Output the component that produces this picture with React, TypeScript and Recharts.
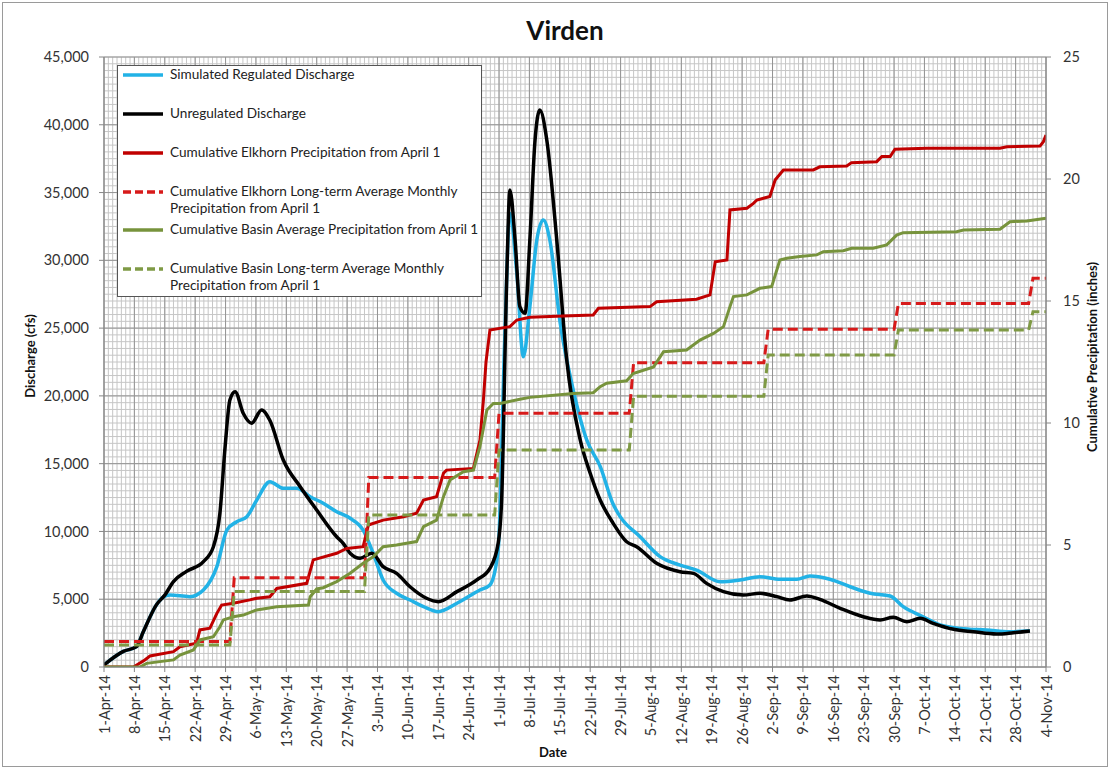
import { LineChart, Line, XAxis, YAxis, CartesianGrid } from 'recharts';

// day 0 = 1-Apr-14
const weekTicks = [0, 7, 14, 21, 28, 35, 42, 49, 56, 63, 70, 77, 84, 91, 98, 105, 112, 119, 126, 133, 140, 147, 154, 161, 168, 175, 182, 189, 196, 203, 210, 217];
const weekLabels = [
  '1-Apr-14', '8-Apr-14', '15-Apr-14', '22-Apr-14', '29-Apr-14', '6-May-14', '13-May-14', '20-May-14',
  '27-May-14', '3-Jun-14', '10-Jun-14', '17-Jun-14', '24-Jun-14', '1-Jul-14', '8-Jul-14', '15-Jul-14',
  '22-Jul-14', '29-Jul-14', '5-Aug-14', '12-Aug-14', '19-Aug-14', '26-Aug-14', '2-Sep-14', '9-Sep-14',
  '16-Sep-14', '23-Sep-14', '30-Sep-14', '7-Oct-14', '14-Oct-14', '21-Oct-14', '28-Oct-14', '4-Nov-14',
];
const dischargeTicks = [0, 5000, 10000, 15000, 20000, 25000, 30000, 35000, 40000, 45000];
const precipTicks = [0, 5, 10, 15, 20, 25];
const DAY_MAX = 217;
const CFS_MAX = 45000;

// minor grid: one line per day, one per 500 cfs
const dayGrid = Array.from({ length: 218 }, (_, i) => i);
const cfsGrid = Array.from({ length: 91 }, (_, i) => i * 500);

type Pt = { day: number; v: number };
const pts = (rows: number[][]): Pt[] => rows.map(([day, v]) => ({ day, v }));

const regulated = pts([
  [0, 150], [4.45, 1150], [7.5, 1500], [9.05, 2600], [12.1, 4600], [13.6, 5150], [15.2, 5310], [19.8, 5190],
  [22.9, 5680], [26, 7400], [28.3, 10100], [30.6, 10720], [32.9, 11090], [35.2, 12320], [38.2, 13670],
  [41.3, 13180], [44.4, 13180], [47.5, 12560], [50.5, 12080], [53.6, 11460], [56.7, 10970], [59.7, 10100],
  [62, 8390], [64.3, 6420], [67.4, 5440], [70.5, 4940], [73.6, 4450], [77, 4080], [81.3, 4700], [86.6, 5680],
  [88.9, 6050], [90.8, 8630], [92.3, 24000], [93.5, 33470], [95.1, 29040], [96.6, 22890], [98.1, 26580],
  [99.7, 31500], [101.2, 32980], [102.7, 31500], [105.1, 25350], [108.1, 20430], [111.2, 16750],
  [114.3, 14800], [117.3, 12000], [118.9, 11090], [123.5, 9610], [128.1, 8140], [132.7, 7520],
  [136.5, 7150], [141.9, 6290], [146.5, 6420], [151.1, 6660], [155.7, 6470], [159.6, 6470], [162.6, 6710],
  [167.2, 6470], [171.9, 5920], [176.5, 5440], [181.1, 5240], [184.1, 4450], [188.7, 3710], [192.6, 3100],
  [197.2, 2850], [203.3, 2730], [208.7, 2600], [213.3, 2680],
]);

const unregulated = pts([
  [0, 150], [4.45, 1150], [7.5, 1500], [9.05, 2600], [12.1, 4600], [14, 5300], [16, 6300], [19, 7050],
  [22.9, 7770], [25.2, 8870], [26.7, 11340], [27.9, 16250], [29, 19700], [30.2, 20300], [32.1, 18700],
  [34, 17980], [36.3, 18960], [38.2, 18200], [41.3, 15270], [45.2, 13300], [49, 11580], [53.6, 9610],
  [55.1, 9120], [56.7, 8390], [59, 8020], [61.7, 8390], [64.3, 7400], [67.4, 6910], [70.5, 5920],
  [74.3, 5070], [77, 4820], [81.3, 5560], [85.9, 6420], [88.9, 7280], [90.8, 9120], [91.6, 12320],
  [92.8, 29040], [93.5, 35190], [94.7, 31500], [95.8, 26580], [97, 26090], [98.1, 31500], [99.3, 38880],
  [100.4, 41090], [102, 38880], [104.3, 31500], [106.6, 22650], [109.7, 16750], [112, 14290], [114.3, 12320],
  [117.3, 10600], [120.4, 9240], [122.7, 8870], [127.3, 7650], [132.7, 7030], [135.8, 6910],
  [138.8, 6170], [142.7, 5560], [147.3, 5310], [151.1, 5440], [155, 5190], [158, 4940], [161.9, 5240],
  [164.9, 4990], [169.6, 4330], [174.9, 3710], [178.8, 3470], [181.8, 3670], [184.9, 3340], [188, 3590],
  [191, 3220], [195.7, 2780], [200.3, 2600], [205.6, 2430], [209.5, 2530], [213.3, 2660],
]);

const elkhorn = pts([
  [0, 0], [6.8, 0], [9.4, 0.29], [10.6, 0.45], [16, 0.63], [17.5, 0.83], [21.3, 0.97], [22.1, 1.52],
  [24.4, 1.59], [26, 2.2], [27.1, 2.54], [29.8, 2.61], [33.6, 2.75], [35.2, 2.82], [38.2, 2.88],
  [39.8, 3.22], [46.7, 3.43], [48.2, 4.39], [53.6, 4.66], [55.9, 4.86], [59.7, 4.93], [60.9, 5.82],
  [64.3, 6.02], [69, 6.16], [72, 6.3], [73.6, 6.84], [76.6, 6.98], [78.2, 7.94], [78.9, 8.07],
  [85.1, 8.14], [86.6, 9.3], [87.4, 10.94], [88, 12.5], [88.9, 13.81], [93.5, 13.95], [95.1, 14.22],
  [98.1, 14.33], [105.8, 14.39], [112.7, 14.43], [113.9, 14.7], [125.8, 14.77], [127.3, 14.97],
  [136.5, 15.07], [139.6, 15.25], [140.8, 16.61], [143.5, 16.68], [144.2, 18.73], [148.1, 18.8],
  [149.6, 19], [150.4, 19.14], [153.4, 19.28], [154.6, 19.96], [156.5, 20.37], [163.4, 20.37],
  [164.9, 20.5], [171.1, 20.53], [172.2, 20.67], [178, 20.71], [179.2, 20.92], [181.1, 20.92],
  [182.2, 21.22], [189.5, 21.26], [206.4, 21.26], [208, 21.32], [215.6, 21.35], [216.4, 21.53], [217, 21.8],
]);

const elkhornNormal = pts([
  [0, 1.05], [29, 1.05], [30, 3.66], [60, 3.66], [61, 7.77], [90, 7.77], [91, 10.4], [121, 10.4],
  [122, 12.47], [152, 12.47], [153, 13.84], [182, 13.84], [183, 14.9], [213, 14.9], [214, 15.93], [217, 15.93],
]);

const basin = pts([
  [0, 0], [8.3, 0], [9.8, 0.15], [12.9, 0.22], [16, 0.29], [17.5, 0.49], [20.6, 0.7], [22.1, 1.11],
  [25.2, 1.24], [26.7, 1.65], [27.5, 1.93], [29.8, 2.06], [32.1, 2.13], [35.2, 2.34], [39.8, 2.47],
  [47.1, 2.54], [47.5, 2.88], [49, 3.2], [50.5, 3.25], [53.6, 3.5], [56.7, 3.84], [59.7, 4.25],
  [62, 4.52], [64.3, 4.93], [67.4, 5.0], [69.7, 5.07], [72, 5.14], [73.6, 5.75], [76.6, 6.02],
  [78.2, 6.98], [79.7, 7.66], [82.8, 8.0], [85.1, 8.07], [86.6, 9.03], [88.2, 10.53], [89.7, 10.8],
  [91.2, 10.8], [95.8, 10.97], [98.1, 11.05], [108.1, 11.21], [112.7, 11.24], [114.3, 11.49],
  [115.8, 11.63], [120.4, 11.73], [121.9, 12.03], [126.6, 12.3], [128.9, 12.92], [134.2, 12.99],
  [137.3, 13.4], [140.4, 13.67], [142.7, 13.95], [144.2, 14.77], [145, 15.18], [148.1, 15.25],
  [151.1, 15.52], [153.8, 15.59], [155.7, 16.68], [157.3, 16.75], [160.3, 16.82], [164.2, 16.89],
  [165.7, 17.02], [170.3, 17.06], [172.2, 17.16], [177.2, 17.16], [180.3, 17.3], [182.6, 17.7],
  [184.1, 17.8], [196.4, 17.84], [198, 17.91], [206.4, 17.94], [208.7, 18.25], [212.6, 18.28], [217, 18.39],
]);

const basinNormal = pts([
  [0, 0.9], [29, 0.9], [30, 3.09], [60, 3.09], [61, 6.23], [90, 6.23], [91, 8.89], [121, 8.89],
  [122, 11.1], [152, 11.1], [153, 12.79], [182, 12.79], [183, 13.81], [213, 13.81], [214, 14.56], [217, 14.56],
]);

const series = [
  { key: 'reg', name: ['Simulated Regulated Discharge'], data: regulated, axis: 'left', color: '#22B2E6', width: 3.5, dash: undefined, curve: 'monotone' },
  { key: 'unreg', name: ['Unregulated Discharge'], data: unregulated, axis: 'left', color: '#000000', width: 3.5, dash: undefined, curve: 'monotone' },
  { key: 'elk', name: ['Cumulative Elkhorn Precipitation from April 1'], data: elkhorn, axis: 'right', color: '#C00000', width: 3, dash: undefined, curve: 'linear' },
  { key: 'elkN', name: ['Cumulative Elkhorn Long-term Average Monthly', 'Precipitation from April 1'], data: elkhornNormal, axis: 'right', color: '#D71A1A', width: 3, dash: '10 5', curve: 'linear' },
  { key: 'bas', name: ['Cumulative Basin Average Precipitation from April 1'], data: basin, axis: 'right', color: '#77933C', width: 3, dash: undefined, curve: 'linear' },
  { key: 'basN', name: ['Cumulative Basin Long-term Average Monthly', 'Precipitation from April 1'], data: basinNormal, axis: 'right', color: '#7F9A45', width: 3, dash: '10 5', curve: 'linear' },
] as const;

const legendTops = [66, 105, 144, 183, 221, 260];

const FONT = 'Lato, "Open Sans", sans-serif';
const AXIS = '#868686';

// minor grid positions, through the axis scale when it is exposed
const dayLines = (props: any): number[] => {
  const sc = props?.xAxis?.scale;
  if (typeof sc === 'function') return dayGrid.map((d) => sc(d));
  const o = props.offset;
  return dayGrid.map((d) => o.left + (d / DAY_MAX) * o.width);
};
const cfsLines = (props: any): number[] => {
  const sc = props?.yAxis?.scale;
  if (typeof sc === 'function') return cfsGrid.map((v) => sc(v));
  const o = props.offset;
  return cfsGrid.map((v) => o.top + o.height - (v / CFS_MAX) * o.height);
};

const DateTick = (props: any) => {
  const { x, y, payload } = props;
  const label = weekLabels[weekTicks.indexOf(payload.value)];
  return (
    <text
      x={x}
      y={y}
      transform={`rotate(-90 ${x} ${y})`}
      textAnchor="end"
      dominantBaseline="central"
      fontFamily={FONT}
      fontSize={14.5}
      fill="#333"
    >
      {label}
    </text>
  );
};

function Legend() {
  return (
    <div
      style={{
        position: 'absolute',
        left: 117,
        top: 65,
        width: 363,
        height: 230,
        border: '1px solid #555',
        background: '#fff',
        fontFamily: FONT,
        fontSize: 13.6,
        color: '#222',
      }}
    >
      {series.map((s, i) => (
        <div key={s.key} style={{ position: 'absolute', left: 4, top: legendTops[i] - 66, lineHeight: '17px' }}>
          <svg width={42} height={17} style={{ position: 'absolute', left: 0, top: 0 }}>
            <line x1={1} y1={9} x2={41} y2={9} stroke={s.color} strokeWidth={3.5} strokeDasharray={s.dash ? '8 4' : undefined} />
          </svg>
          <div style={{ marginLeft: 48, whiteSpace: 'nowrap' }}>
            {s.name.map((t) => (
              <div key={t}>{t}</div>
            ))}
          </div>
        </div>
      ))}
    </div>
  );
}

export default function App() {
  return (
    <div style={{ position: 'absolute', left: 0, top: 0, width: 1110, height: 769, background: '#fff' }}>
      <div style={{ position: 'absolute', left: 2, top: 2, width: 1104, height: 763, border: '1px solid #9a9a9a' }} />
      <LineChart width={1110} height={769} margin={{ top: 57, right: 0, bottom: 0, left: 0 }}>
        <XAxis
          xAxisId="main"
          type="number"
          dataKey="day"
          domain={[0, DAY_MAX]}
          ticks={weekTicks}
          allowDataOverflow
          height={102}
          stroke={AXIS}
          tickSize={5}
          tickMargin={3}
          tick={<DateTick />}
          interval={0}
        />
        <YAxis
          yAxisId="left"
          type="number"
          domain={[0, CFS_MAX]}
          ticks={dischargeTicks}
          allowDataOverflow
          width={104}
          stroke={AXIS}
          tickSize={5}
          tickMargin={10}
          tickFormatter={(v: number) => v.toLocaleString('en-US')}
          tick={{ fontFamily: FONT, fontSize: 14.5, fill: '#333' }}
          interval={0}
        />
        <YAxis
          yAxisId="right"
          orientation="right"
          type="number"
          domain={[0, 25]}
          ticks={precipTicks}
          allowDataOverflow
          width={64}
          stroke={AXIS}
          tickSize={5}
          tickMargin={12}
          tick={{ fontFamily: FONT, fontSize: 14.5, fill: '#333', textAnchor: 'start' }}
          interval={0}
        />
        <CartesianGrid
          xAxisId="main"
          yAxisId="left"
          stroke="#c6c6c6"
          strokeWidth={1}
          verticalCoordinatesGenerator={dayLines}
          horizontalCoordinatesGenerator={cfsLines}
        />
        <CartesianGrid xAxisId="main" yAxisId="left" stroke="#949494" strokeWidth={1} />
        {series.map((s) => (
          <Line
            key={s.key}
            xAxisId="main"
            yAxisId={s.axis}
            data={s.data as Pt[]}
            dataKey="v"
            name={s.name.join(' ')}
            type={s.curve}
            stroke={s.color}
            strokeWidth={s.width}
            strokeDasharray={s.dash}
            dot={false}
            activeDot={false}
            isAnimationActive={false}
          />
        ))}
      </LineChart>
      <div style={{ position: 'absolute', left: 0, width: 1130, top: 14, textAlign: 'center', fontFamily: FONT, fontWeight: 700, fontSize: 26, color: '#111' }}>
        Virden
      </div>
      <div style={{ position: 'absolute', left: 30, top: 356, transform: 'translate(-50%, -50%) rotate(-90deg)', whiteSpace: 'nowrap', fontFamily: FONT, fontWeight: 700, fontSize: 13, color: '#111' }}>
        Discharge (cfs)
      </div>
      <div style={{ position: 'absolute', left: 1092, top: 357, transform: 'translate(-50%, -50%) rotate(-90deg)', whiteSpace: 'nowrap', fontFamily: FONT, fontWeight: 700, fontSize: 13, color: '#111' }}>
        Cumulative Precipitation (inches)
      </div>
      <div style={{ position: 'absolute', left: 553, top: 752, transform: 'translate(-50%, -50%)', fontFamily: FONT, fontWeight: 700, fontSize: 13, color: '#111' }}>
        Date
      </div>
      <Legend />
    </div>
  );
}
